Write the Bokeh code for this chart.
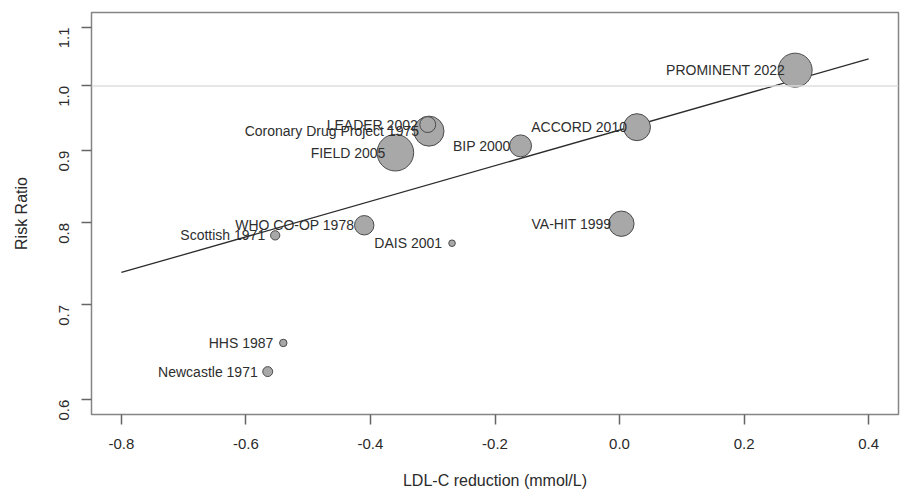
import math
from bokeh.plotting import figure
from bokeh.models import Range1d, FixedTicker, PrintfTickFormatter, ColumnDataSource, Span
from bokeh.core.properties import value
from bokeh.embed import file_html
from bokeh.resources import INLINE

# ---- data ----
studies = ["Newcastle 1971", "HHS 1987", "Scottish 1971", "WHO CO-OP 1978", "DAIS 2001",
           "VA-HIT 1999", "Coronary Drug Project 1975", "LEADER 2002", "FIELD 2005",
           "BIP 2000", "ACCORD 2010", "PROMINENT 2022"]
ldl_reduction = [-0.565, -0.540, -0.553, -0.410, -0.269, 0.003, -0.306, -0.308, -0.360,
                 -0.159, 0.028, 0.282]
risk_ratio = [0.628, 0.658, 0.784, 0.797, 0.774, 0.799, 0.929, 0.939, 0.897, 0.907,
              0.935, 1.026]
weight_pct = [1.6, 0.9, 1.4, 6.1, 0.7, 10.4, 14.6, 4.1, 21.7, 7.8, 11.8, 18.7]

fit_x = [-0.8, 0.4]
fit_rr = [0.738, 1.045]

x_ticks = [-0.8, -0.6, -0.4, -0.2, 0.0, 0.2, 0.4]
y_ticks = [0.6, 0.7, 0.8, 0.9, 1.0, 1.1]

FONT = "Liberation Sans, Arial, sans-serif"

# draw big bubbles first so small ones stay visible
order = sorted(range(len(studies)), key=lambda i: -weight_pct[i])
src = ColumnDataSource(dict(
    x=[ldl_reduction[i] for i in order],
    y=[risk_ratio[i] for i in order],
    label=[studies[i] for i in order],
    size=[2 * 3.93 * math.sqrt(weight_pct[i]) for i in order],
))

xr = x_ticks[-1] - x_ticks[0]
ylo, yhi = math.log(y_ticks[0]), math.log(y_ticks[-1])
yr = yhi - ylo

p = figure(frame_width=807, frame_height=402,
           min_border_left=91, min_border_right=3, min_border_top=12, min_border_bottom=79,
           x_range=Range1d(x_ticks[0] - 0.04 * xr, x_ticks[-1] + 0.04 * xr),
           y_range=Range1d(math.exp(ylo - 0.04 * yr), math.exp(yhi + 0.04 * yr)),
           y_axis_type="log", output_backend="svg", toolbar_location=None,
           background_fill_color="white", border_fill_color="white")

p.grid.visible = False
p.outline_line_color = "#858585"
p.outline_line_width = 1.5

p.add_layout(Span(location=1.0, dimension="width", line_color="#dedede", line_width=1.5))

p.line(fit_x, fit_rr, line_color="#2b2b2b", line_width=1.3)

p.scatter("x", "y", size="size", source=src, fill_color="#a8a8a8",
          line_color="#4a4a4a", line_width=1)

p.text("x", "y", text="label", source=src, text_align="right", text_baseline="middle",
       x_offset=-10, text_font=value(FONT), text_font_size="14px", text_color="#2e2e2e")

p.xaxis.ticker = FixedTicker(ticks=x_ticks)
p.yaxis.ticker = FixedTicker(ticks=y_ticks)
p.xaxis.formatter = PrintfTickFormatter(format="%.1f")
p.yaxis.formatter = PrintfTickFormatter(format="%.1f")
p.xaxis.axis_label = "LDL-C reduction (mmol/L)"
p.yaxis.axis_label = "Risk Ratio"
p.yaxis.major_label_orientation = math.pi / 2

for ax in (p.xaxis, p.yaxis):
    ax.axis_line_color = None
    ax.minor_tick_line_color = None
    ax.major_tick_line_color = "#666666"
    ax.major_tick_line_width = 1.5
    ax.major_tick_out = 10
    ax.major_tick_in = 0
    ax.major_label_text_font = FONT
    ax.major_label_text_font_size = "15px"
    ax.major_label_text_color = "#2a2a2a"
    ax.axis_label_text_font = FONT
    ax.axis_label_text_font_size = "16px"
    ax.axis_label_text_font_style = "normal"
    ax.axis_label_text_color = "#2a2a2a"

p.xaxis.major_label_standoff = 14
p.xaxis.axis_label_standoff = 20
p.yaxis.major_label_standoff = 17
p.yaxis.axis_label_standoff = 22

open("out.html", "w").write(file_html(p, INLINE))
